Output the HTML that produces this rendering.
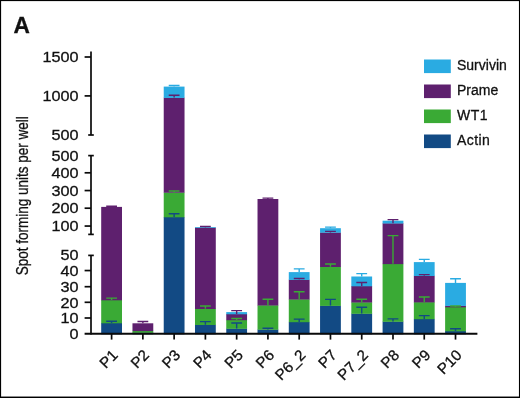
<!DOCTYPE html><html><head><meta charset="utf-8"><title>A</title><style>html,body{margin:0;padding:0;background:#fff}svg{display:block}text{font-family:"Liberation Sans",sans-serif;fill:#111;stroke:#111;stroke-width:0.3px}</style></head><body>
<svg width="520" height="398" viewBox="0 0 520 398">
<rect x="0" y="0" width="520" height="398" fill="#fff"/>
<rect x="0" y="0" width="520" height="1.1" fill="#000"/>
<rect x="0" y="0" width="1.1" height="398" fill="#000"/>
<rect x="518.95" y="0" width="1.05" height="398" fill="#000"/>
<rect x="0" y="396.55" width="520" height="1.45" fill="#000"/>
<text transform="translate(13.4 32.9) rotate(0.03) scale(0.97 1)" font-size="23.4" font-weight="bold" fill="#000" stroke="#000" stroke-width="1.1">A</text>
<g shape-rendering="auto">
<rect x="101.20" y="323.00" width="20.8" height="11.30" fill="#124a84"/>
<rect x="101.20" y="300.00" width="20.8" height="23.30" fill="#3aaa35"/>
<rect x="101.20" y="206.90" width="20.8" height="93.40" fill="#5e206e"/>
<rect x="132.47" y="332.50" width="20.8" height="1.80" fill="#124a84"/>
<rect x="132.47" y="330.80" width="20.8" height="2.00" fill="#3aaa35"/>
<rect x="132.47" y="323.30" width="20.8" height="7.80" fill="#5e206e"/>
<rect x="163.73" y="217.00" width="20.8" height="117.30" fill="#124a84"/>
<rect x="163.73" y="192.40" width="20.8" height="24.90" fill="#3aaa35"/>
<rect x="163.73" y="97.60" width="20.8" height="95.10" fill="#5e206e"/>
<rect x="163.73" y="86.60" width="20.8" height="11.30" fill="#2aabe2"/>
<rect x="194.99" y="324.70" width="20.8" height="9.60" fill="#124a84"/>
<rect x="194.99" y="308.70" width="20.8" height="16.30" fill="#3aaa35"/>
<rect x="194.99" y="227.60" width="20.8" height="81.40" fill="#5e206e"/>
<rect x="194.99" y="227.15" width="20.8" height="0.75" fill="#2aabe2"/>
<rect x="226.26" y="328.50" width="20.8" height="5.80" fill="#124a84"/>
<rect x="226.26" y="319.90" width="20.8" height="8.90" fill="#3aaa35"/>
<rect x="226.26" y="314.00" width="20.8" height="6.20" fill="#5e206e"/>
<rect x="226.26" y="312.10" width="20.8" height="2.20" fill="#2aabe2"/>
<rect x="257.52" y="329.40" width="20.8" height="4.90" fill="#124a84"/>
<rect x="257.52" y="305.20" width="20.8" height="24.50" fill="#3aaa35"/>
<rect x="257.52" y="199.00" width="20.8" height="106.50" fill="#5e206e"/>
<rect x="288.79" y="321.90" width="20.8" height="12.40" fill="#124a84"/>
<rect x="288.79" y="299.20" width="20.8" height="23.00" fill="#3aaa35"/>
<rect x="288.79" y="279.60" width="20.8" height="19.90" fill="#5e206e"/>
<rect x="288.79" y="272.10" width="20.8" height="7.80" fill="#2aabe2"/>
<rect x="320.06" y="305.60" width="20.8" height="28.70" fill="#124a84"/>
<rect x="320.06" y="266.70" width="20.8" height="39.20" fill="#3aaa35"/>
<rect x="320.06" y="232.40" width="20.8" height="34.60" fill="#5e206e"/>
<rect x="320.06" y="228.20" width="20.8" height="4.50" fill="#2aabe2"/>
<rect x="351.32" y="313.50" width="20.8" height="20.80" fill="#124a84"/>
<rect x="351.32" y="302.20" width="20.8" height="11.60" fill="#3aaa35"/>
<rect x="351.32" y="286.00" width="20.8" height="16.50" fill="#5e206e"/>
<rect x="351.32" y="276.50" width="20.8" height="9.80" fill="#2aabe2"/>
<rect x="382.59" y="321.50" width="20.8" height="12.80" fill="#124a84"/>
<rect x="382.59" y="263.80" width="20.8" height="58.00" fill="#3aaa35"/>
<rect x="382.59" y="223.20" width="20.8" height="40.90" fill="#5e206e"/>
<rect x="382.59" y="220.70" width="20.8" height="2.80" fill="#2aabe2"/>
<rect x="413.85" y="318.90" width="20.8" height="15.40" fill="#124a84"/>
<rect x="413.85" y="302.10" width="20.8" height="17.10" fill="#3aaa35"/>
<rect x="413.85" y="275.70" width="20.8" height="26.70" fill="#5e206e"/>
<rect x="413.85" y="262.10" width="20.8" height="13.90" fill="#2aabe2"/>
<rect x="445.12" y="331.00" width="20.8" height="3.30" fill="#124a84"/>
<rect x="445.12" y="307.00" width="20.8" height="24.30" fill="#3aaa35"/>
<rect x="445.12" y="305.60" width="20.8" height="1.70" fill="#5e206e"/>
<rect x="445.12" y="282.90" width="20.8" height="23.00" fill="#2aabe2"/>
<path d="M106.20 321.30H117.00M111.60 321.30V323.00" stroke="#124a84" stroke-width="1.4" fill="none"/>
<path d="M106.20 298.10H117.00M111.60 298.10V300.00" stroke="#3aaa35" stroke-width="1.4" fill="none"/>
<path d="M106.20 206.20H117.00M111.60 206.20V206.90" stroke="#5e206e" stroke-width="1.4" fill="none"/>
<path d="M137.47 321.50H148.27M142.87 321.50V323.30" stroke="#5e206e" stroke-width="1.4" fill="none"/>
<path d="M168.73 213.80H179.53M174.13 213.80V217.00" stroke="#124a84" stroke-width="1.4" fill="none"/>
<path d="M168.73 191.00H179.53M174.13 191.00V192.40" stroke="#3aaa35" stroke-width="1.4" fill="none"/>
<path d="M168.73 95.20H179.53M174.13 95.20V97.60" stroke="#5e206e" stroke-width="1.4" fill="none"/>
<path d="M168.73 85.50H179.53M174.13 85.50V86.60" stroke="#2aabe2" stroke-width="1.4" fill="none"/>
<path d="M199.99 321.60H210.79M205.39 321.60V324.70" stroke="#124a84" stroke-width="1.4" fill="none"/>
<path d="M199.99 306.00H210.79M205.39 306.00V308.70" stroke="#3aaa35" stroke-width="1.4" fill="none"/>
<path d="M199.99 226.50H210.79M205.39 226.50V227.60" stroke="#5e206e" stroke-width="1.4" fill="none"/>
<path d="M231.26 323.00H242.06M236.66 323.00V328.50" stroke="#124a84" stroke-width="1.4" fill="none"/>
<path d="M231.26 318.50H242.06M236.66 318.50V319.90" stroke="#3aaa35" stroke-width="1.4" fill="none"/>
<path d="M231.26 310.60H242.06M236.66 310.60V314.00" stroke="#5e206e" stroke-width="1.4" fill="none"/>
<path d="M262.52 328.30H273.32M267.92 328.30V329.40" stroke="#124a84" stroke-width="1.4" fill="none"/>
<path d="M262.52 299.20H273.32M267.92 299.20V305.20" stroke="#3aaa35" stroke-width="1.4" fill="none"/>
<path d="M262.52 198.10H273.32M267.92 198.10V199.00" stroke="#5e206e" stroke-width="1.4" fill="none"/>
<path d="M293.79 319.10H304.59M299.19 319.10V321.90" stroke="#124a84" stroke-width="1.4" fill="none"/>
<path d="M293.79 291.75H304.59M299.19 291.75V299.20" stroke="#3aaa35" stroke-width="1.4" fill="none"/>
<path d="M293.79 278.50H304.59M299.19 278.50V279.60" stroke="#5e206e" stroke-width="1.4" fill="none"/>
<path d="M293.79 268.90H304.59M299.19 268.90V272.10" stroke="#2aabe2" stroke-width="1.4" fill="none"/>
<path d="M325.06 299.40H335.86M330.46 299.40V305.60" stroke="#124a84" stroke-width="1.4" fill="none"/>
<path d="M325.06 264.00H335.86M330.46 264.00V266.70" stroke="#3aaa35" stroke-width="1.4" fill="none"/>
<path d="M325.06 231.40H335.86M330.46 231.40V232.40" stroke="#5e206e" stroke-width="1.4" fill="none"/>
<path d="M325.06 227.10H335.86M330.46 227.10V228.20" stroke="#2aabe2" stroke-width="1.4" fill="none"/>
<path d="M356.32 307.30H367.12M361.72 307.30V313.50" stroke="#124a84" stroke-width="1.4" fill="none"/>
<path d="M356.32 299.20H367.12M361.72 299.20V302.20" stroke="#3aaa35" stroke-width="1.4" fill="none"/>
<path d="M356.32 282.50H367.12M361.72 282.50V286.00" stroke="#5e206e" stroke-width="1.4" fill="none"/>
<path d="M356.32 273.60H367.12M361.72 273.60V276.50" stroke="#2aabe2" stroke-width="1.4" fill="none"/>
<path d="M387.59 318.90H398.38M392.99 318.90V321.50" stroke="#124a84" stroke-width="1.4" fill="none"/>
<path d="M387.59 235.60H398.38M392.99 235.60V263.80" stroke="#3aaa35" stroke-width="1.4" fill="none"/>
<path d="M387.59 219.60H398.38M392.99 219.60V223.20" stroke="#5e206e" stroke-width="1.4" fill="none"/>
<path d="M418.85 315.60H429.65M424.25 315.60V318.90" stroke="#124a84" stroke-width="1.4" fill="none"/>
<path d="M418.85 297.00H429.65M424.25 297.00V302.10" stroke="#3aaa35" stroke-width="1.4" fill="none"/>
<path d="M418.85 274.60H429.65M424.25 274.60V275.70" stroke="#5e206e" stroke-width="1.4" fill="none"/>
<path d="M418.85 259.35H429.65M424.25 259.35V262.10" stroke="#2aabe2" stroke-width="1.4" fill="none"/>
<path d="M450.12 328.80H460.91M455.51 328.80V331.00" stroke="#124a84" stroke-width="1.4" fill="none"/>
<path d="M450.12 306.00H460.91M455.51 306.00V307.00" stroke="#3aaa35" stroke-width="1.4" fill="none"/>
<path d="M450.12 278.70H460.91M455.51 278.70V282.90" stroke="#2aabe2" stroke-width="1.4" fill="none"/>
</g>
<path d="M91.0 51.6V135.0" stroke="#0a0a0a" stroke-width="1.7" fill="none"/>
<path d="M84.6 57.0H91.0" stroke="#0a0a0a" stroke-width="1.7" fill="none"/>
<path d="M84.6 95.9H91.0" stroke="#0a0a0a" stroke-width="1.7" fill="none"/>
<path d="M88.2 135.0H93.8" stroke="#0a0a0a" stroke-width="1.7" fill="none"/>
<path d="M91.0 155.6V234.4" stroke="#0a0a0a" stroke-width="1.7" fill="none"/>
<path d="M84.6 172.8H91.0" stroke="#0a0a0a" stroke-width="1.7" fill="none"/>
<path d="M84.6 190.55H91.0" stroke="#0a0a0a" stroke-width="1.7" fill="none"/>
<path d="M84.6 208.2H91.0" stroke="#0a0a0a" stroke-width="1.7" fill="none"/>
<path d="M84.6 226.05H91.0" stroke="#0a0a0a" stroke-width="1.7" fill="none"/>
<path d="M88.2 155.6H93.8" stroke="#0a0a0a" stroke-width="1.7" fill="none"/>
<path d="M88.2 234.4H93.8" stroke="#0a0a0a" stroke-width="1.7" fill="none"/>
<path d="M91.0 255.4V334.6" stroke="#0a0a0a" stroke-width="1.7" fill="none"/>
<path d="M84.6 270.55H91.0" stroke="#0a0a0a" stroke-width="1.7" fill="none"/>
<path d="M84.6 286.7H91.0" stroke="#0a0a0a" stroke-width="1.7" fill="none"/>
<path d="M84.6 302.3H91.0" stroke="#0a0a0a" stroke-width="1.7" fill="none"/>
<path d="M84.6 318.0H91.0" stroke="#0a0a0a" stroke-width="1.7" fill="none"/>
<path d="M88.2 255.4H93.8" stroke="#0a0a0a" stroke-width="1.7" fill="none"/>
<path d="M84.6 333.7H477.4" stroke="#0a0a0a" stroke-width="2.0" fill="none"/>
<path d="M111.60 334.0V339.6" stroke="#0a0a0a" stroke-width="1.7" fill="none"/>
<path d="M142.87 334.0V339.6" stroke="#0a0a0a" stroke-width="1.7" fill="none"/>
<path d="M174.13 334.0V339.6" stroke="#0a0a0a" stroke-width="1.7" fill="none"/>
<path d="M205.39 334.0V339.6" stroke="#0a0a0a" stroke-width="1.7" fill="none"/>
<path d="M236.66 334.0V339.6" stroke="#0a0a0a" stroke-width="1.7" fill="none"/>
<path d="M267.92 334.0V339.6" stroke="#0a0a0a" stroke-width="1.7" fill="none"/>
<path d="M299.19 334.0V339.6" stroke="#0a0a0a" stroke-width="1.7" fill="none"/>
<path d="M330.46 334.0V339.6" stroke="#0a0a0a" stroke-width="1.7" fill="none"/>
<path d="M361.72 334.0V339.6" stroke="#0a0a0a" stroke-width="1.7" fill="none"/>
<path d="M392.99 334.0V339.6" stroke="#0a0a0a" stroke-width="1.7" fill="none"/>
<path d="M424.25 334.0V339.6" stroke="#0a0a0a" stroke-width="1.7" fill="none"/>
<path d="M455.51 334.0V339.6" stroke="#0a0a0a" stroke-width="1.7" fill="none"/>
<text transform="translate(78.6 62.19) scale(1.12 1)" text-anchor="end" font-size="14.5">1500</text>
<text transform="translate(78.6 100.89) scale(1.12 1)" text-anchor="end" font-size="14.5">1000</text>
<text transform="translate(78.6 139.99) scale(1.12 1)" text-anchor="end" font-size="14.5">500</text>
<text transform="translate(78.6 160.89) scale(1.12 1)" text-anchor="end" font-size="14.5">500</text>
<text transform="translate(78.6 177.89) scale(1.12 1)" text-anchor="end" font-size="14.5">400</text>
<text transform="translate(78.6 195.74) scale(1.12 1)" text-anchor="end" font-size="14.5">300</text>
<text transform="translate(78.6 213.39) scale(1.12 1)" text-anchor="end" font-size="14.5">200</text>
<text transform="translate(78.6 231.39) scale(1.12 1)" text-anchor="end" font-size="14.5">100</text>
<text transform="translate(78.6 260.29) scale(1.12 1)" text-anchor="end" font-size="14.5">50</text>
<text transform="translate(78.6 275.89) scale(1.12 1)" text-anchor="end" font-size="14.5">40</text>
<text transform="translate(78.6 291.99) scale(1.12 1)" text-anchor="end" font-size="14.5">30</text>
<text transform="translate(78.6 307.54) scale(1.12 1)" text-anchor="end" font-size="14.5">20</text>
<text transform="translate(78.6 323.19) scale(1.12 1)" text-anchor="end" font-size="14.5">10</text>
<text transform="translate(78.6 338.99) scale(1.12 1)" text-anchor="end" font-size="14.5">0</text>
<text transform="translate(28.4 275.2) rotate(-90)" font-size="16.5" textLength="159" stroke-width="0.45" lengthAdjust="spacingAndGlyphs">Spot forming units per well</text>
<text transform="translate(118.80 356.1) rotate(-45)" text-anchor="end" font-size="15.2" stroke-width="0.12">P1</text>
<text transform="translate(150.06 356.1) rotate(-45)" text-anchor="end" font-size="15.2" stroke-width="0.12">P2</text>
<text transform="translate(181.33 356.1) rotate(-45)" text-anchor="end" font-size="15.2" stroke-width="0.12">P3</text>
<text transform="translate(212.59 356.1) rotate(-45)" text-anchor="end" font-size="15.2" stroke-width="0.12">P4</text>
<text transform="translate(243.86 356.1) rotate(-45)" text-anchor="end" font-size="15.2" stroke-width="0.12">P5</text>
<text transform="translate(275.12 356.1) rotate(-45)" text-anchor="end" font-size="15.2" stroke-width="0.12">P6</text>
<text transform="translate(306.39 356.1) rotate(-45)" text-anchor="end" font-size="15.2" stroke-width="0.12">P6_2</text>
<text transform="translate(337.66 356.1) rotate(-45)" text-anchor="end" font-size="15.2" stroke-width="0.12">P7</text>
<text transform="translate(368.92 356.1) rotate(-45)" text-anchor="end" font-size="15.2" stroke-width="0.12">P7_2</text>
<text transform="translate(400.19 356.1) rotate(-45)" text-anchor="end" font-size="15.2" stroke-width="0.12">P8</text>
<text transform="translate(431.45 356.1) rotate(-45)" text-anchor="end" font-size="15.2" stroke-width="0.12">P9</text>
<text transform="translate(462.71 356.1) rotate(-45)" text-anchor="end" font-size="15.2" stroke-width="0.12">P10</text>
<rect x="424" y="59.50" width="26.8" height="13.6" fill="#2aabe2"/>
<text x="457.0" y="70.30" font-size="14" stroke="none" fill="#1c1c1c" letter-spacing="0">Survivin</text>
<rect x="424" y="84.50" width="26.8" height="13.6" fill="#5e206e"/>
<text x="457.0" y="95.30" font-size="14" stroke="none" fill="#1c1c1c" letter-spacing="0">Prame</text>
<rect x="424" y="109.50" width="26.8" height="13.6" fill="#3aaa35"/>
<text x="457.0" y="120.30" font-size="14" stroke="none" fill="#1c1c1c" letter-spacing="0.55">WT1</text>
<rect x="424" y="134.50" width="26.8" height="13.6" fill="#124a84"/>
<text x="457.0" y="145.30" font-size="14" stroke="none" fill="#1c1c1c" letter-spacing="0.4">Actin</text>
</svg></body></html>
